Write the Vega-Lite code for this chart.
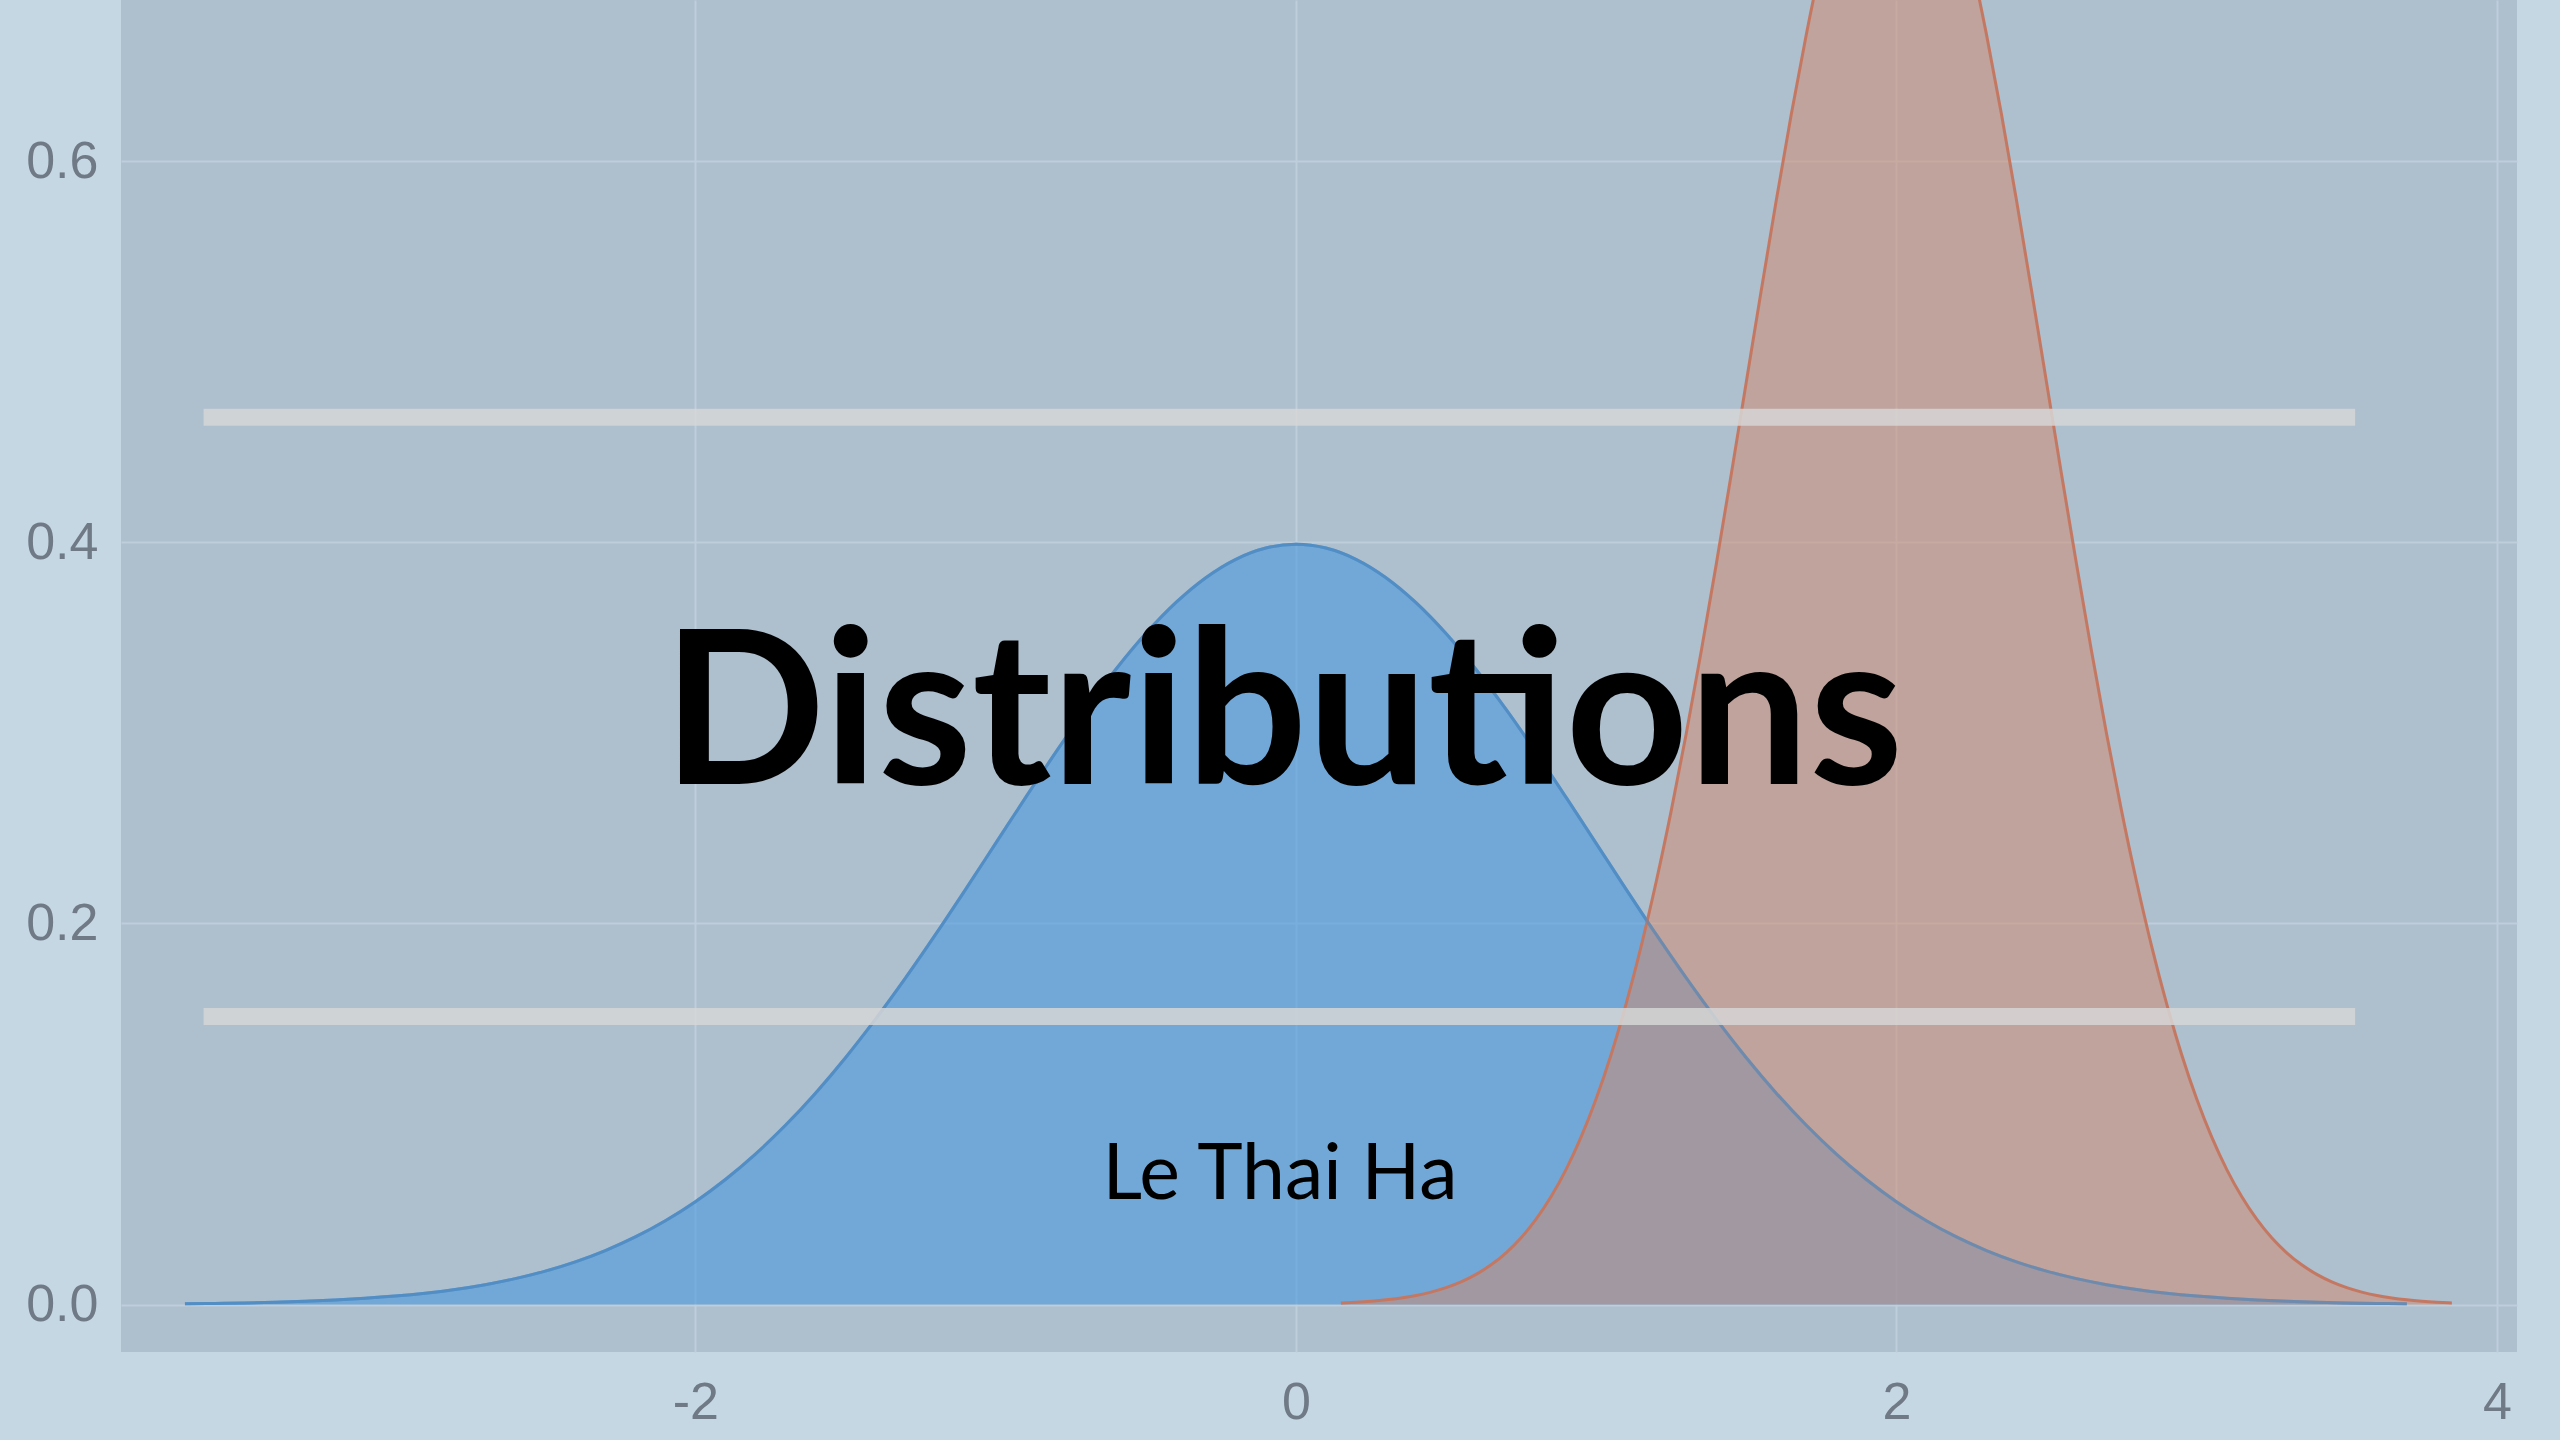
{
  "$schema": "https://vega.github.io/schema/vega-lite/v6.json",
  "width": 2396,
  "height": 1352,
  "autosize": {"type": "none"},
  "padding": {"left": 121, "top": 0, "right": 43, "bottom": 88},
  "background": "#c6d7e4",
  "view": {"fill": "#aebfce", "stroke": null},
  "config": {
    "axis": {"domain": false, "ticks": false, "labelFont": "Liberation Sans", "labelFontSize": 52, "labelColor": "#6f7a86", "gridColor": "#bfcedb", "gridWidth": 2, "title": null}
  },
  "datasets": {
    "normal": [
      {"x": -3.7, "y": 0.000425}, {"x": -3.6, "y": 0.000612}, {"x": -3.5, "y": 0.000873}, {"x": -3.4, "y": 0.001232}, {"x": -3.3, "y": 0.001723},
      {"x": -3.2, "y": 0.002384}, {"x": -3.1, "y": 0.003267}, {"x": -3.0, "y": 0.004432}, {"x": -2.9, "y": 0.005953}, {"x": -2.8, "y": 0.007915},
      {"x": -2.7, "y": 0.010421}, {"x": -2.6, "y": 0.013583}, {"x": -2.5, "y": 0.017528}, {"x": -2.4, "y": 0.022395}, {"x": -2.3, "y": 0.028327},
      {"x": -2.2, "y": 0.035475}, {"x": -2.1, "y": 0.043984}, {"x": -2.0, "y": 0.053991}, {"x": -1.9, "y": 0.065616}, {"x": -1.8, "y": 0.07895},
      {"x": -1.7, "y": 0.094049}, {"x": -1.6, "y": 0.110921}, {"x": -1.5, "y": 0.129518}, {"x": -1.4, "y": 0.149727}, {"x": -1.3, "y": 0.171369},
      {"x": -1.2, "y": 0.194186}, {"x": -1.1, "y": 0.217852}, {"x": -1.0, "y": 0.241971}, {"x": -0.9, "y": 0.266085}, {"x": -0.8, "y": 0.289692},
      {"x": -0.7, "y": 0.312254}, {"x": -0.6, "y": 0.333225}, {"x": -0.5, "y": 0.352065}, {"x": -0.4, "y": 0.36827}, {"x": -0.3, "y": 0.381388},
      {"x": -0.2, "y": 0.391043}, {"x": -0.1, "y": 0.396953}, {"x": 0.0, "y": 0.398942}, {"x": 0.1, "y": 0.396953}, {"x": 0.2, "y": 0.391043},
      {"x": 0.3, "y": 0.381388}, {"x": 0.4, "y": 0.36827}, {"x": 0.5, "y": 0.352065}, {"x": 0.6, "y": 0.333225}, {"x": 0.7, "y": 0.312254},
      {"x": 0.8, "y": 0.289692}, {"x": 0.9, "y": 0.266085}, {"x": 1.0, "y": 0.241971}, {"x": 1.1, "y": 0.217852}, {"x": 1.2, "y": 0.194186},
      {"x": 1.3, "y": 0.171369}, {"x": 1.4, "y": 0.149727}, {"x": 1.5, "y": 0.129518}, {"x": 1.6, "y": 0.110921}, {"x": 1.7, "y": 0.094049},
      {"x": 1.8, "y": 0.07895}, {"x": 1.9, "y": 0.065616}, {"x": 2.0, "y": 0.053991}, {"x": 2.1, "y": 0.043984}, {"x": 2.2, "y": 0.035475},
      {"x": 2.3, "y": 0.028327}, {"x": 2.4, "y": 0.022395}, {"x": 2.5, "y": 0.017528}, {"x": 2.6, "y": 0.013583}, {"x": 2.7, "y": 0.010421},
      {"x": 2.8, "y": 0.007915}, {"x": 2.9, "y": 0.005953}, {"x": 3.0, "y": 0.004432}, {"x": 3.1, "y": 0.003267}, {"x": 3.2, "y": 0.002384},
      {"x": 3.3, "y": 0.001723}, {"x": 3.4, "y": 0.001232}, {"x": 3.5, "y": 0.000873}, {"x": 3.6, "y": 0.000612}, {"x": 3.7, "y": 0.000425}
    ],
    "narrow": [
      {"x": 0.15, "y": 0.00085}, {"x": 0.2, "y": 0.001224}, {"x": 0.25, "y": 0.001745}, {"x": 0.3, "y": 0.002464}, {"x": 0.35, "y": 0.003446},
      {"x": 0.4, "y": 0.004768}, {"x": 0.45, "y": 0.006534}, {"x": 0.5, "y": 0.008864}, {"x": 0.55, "y": 0.011906}, {"x": 0.6, "y": 0.01583},
      {"x": 0.65, "y": 0.020842}, {"x": 0.7, "y": 0.027165}, {"x": 0.75, "y": 0.035056}, {"x": 0.8, "y": 0.044789}, {"x": 0.85, "y": 0.056654},
      {"x": 0.9, "y": 0.070949}, {"x": 0.95, "y": 0.087969}, {"x": 1.0, "y": 0.107982}, {"x": 1.05, "y": 0.131232}, {"x": 1.1, "y": 0.1579},
      {"x": 1.15, "y": 0.188098}, {"x": 1.2, "y": 0.221842}, {"x": 1.25, "y": 0.259035}, {"x": 1.3, "y": 0.299455}, {"x": 1.35, "y": 0.342738},
      {"x": 1.4, "y": 0.388372}, {"x": 1.45, "y": 0.435704}, {"x": 1.5, "y": 0.483941}, {"x": 1.55, "y": 0.53217}, {"x": 1.6, "y": 0.579383},
      {"x": 1.65, "y": 0.624508}, {"x": 1.7, "y": 0.666449}, {"x": 1.75, "y": 0.70413}, {"x": 1.8, "y": 0.73654}, {"x": 1.85, "y": 0.762775},
      {"x": 1.9, "y": 0.782085}, {"x": 1.95, "y": 0.793905}, {"x": 2.0, "y": 0.797885}, {"x": 2.05, "y": 0.793905}, {"x": 2.1, "y": 0.782085},
      {"x": 2.15, "y": 0.762775}, {"x": 2.2, "y": 0.73654}, {"x": 2.25, "y": 0.70413}, {"x": 2.3, "y": 0.666449}, {"x": 2.35, "y": 0.624508},
      {"x": 2.4, "y": 0.579383}, {"x": 2.45, "y": 0.53217}, {"x": 2.5, "y": 0.483941}, {"x": 2.55, "y": 0.435704}, {"x": 2.6, "y": 0.388372},
      {"x": 2.65, "y": 0.342738}, {"x": 2.7, "y": 0.299455}, {"x": 2.75, "y": 0.259035}, {"x": 2.8, "y": 0.221842}, {"x": 2.85, "y": 0.188098},
      {"x": 2.9, "y": 0.1579}, {"x": 2.95, "y": 0.131232}, {"x": 3.0, "y": 0.107982}, {"x": 3.05, "y": 0.087969}, {"x": 3.1, "y": 0.070949},
      {"x": 3.15, "y": 0.056654}, {"x": 3.2, "y": 0.044789}, {"x": 3.25, "y": 0.035056}, {"x": 3.3, "y": 0.027165}, {"x": 3.35, "y": 0.020842},
      {"x": 3.4, "y": 0.01583}, {"x": 3.45, "y": 0.011906}, {"x": 3.5, "y": 0.008864}, {"x": 3.55, "y": 0.006534}, {"x": 3.6, "y": 0.004768},
      {"x": 3.65, "y": 0.003446}, {"x": 3.7, "y": 0.002464}, {"x": 3.75, "y": 0.001745}, {"x": 3.8, "y": 0.001224}, {"x": 3.85, "y": 0.00085}
    ],
    "bands": [
      {"x": -3.638, "x2": 3.528, "y": 0.4656},
      {"x": -3.638, "x2": 3.528, "y": 0.1512}
    ],
    "labels": [
      {"title": "Distributions", "author": "Le Thai Ha"}
    ]
  },
  "layer": [
    {
      "data": {"name": "normal"},
      "mark": {"type": "area", "interpolate": "monotone", "color": "#4a9ae0", "fillOpacity": 0.6, "clip": true, "line": {"color": "#4895d8", "strokeWidth": 3}},
      "encoding": {
        "x": {"field": "x", "type": "quantitative", "scale": {"domain": [-3.913, 4.067], "nice": false, "zero": false}, "axis": {"values": [-2, 0, 2, 4], "labelExpr": "'' + datum.value", "labelPadding": 25}},
        "y": {"field": "y", "type": "quantitative", "scale": {"domain": [-0.0249, 0.6845], "nice": false, "zero": false}, "axis": {"values": [0, 0.2, 0.4, 0.6], "format": ".1f", "labelPadding": 23}}
      }
    },
    {
      "data": {"name": "narrow"},
      "mark": {"type": "area", "interpolate": "monotone", "color": "#d0886a", "fillOpacity": 0.5, "clip": true, "line": {"color": "#c47862", "strokeWidth": 3}},
      "encoding": {
        "x": {"field": "x", "type": "quantitative"},
        "y": {"field": "y", "type": "quantitative"}
      }
    },
    {
      "data": {"name": "normal"},
      "mark": {"type": "line", "interpolate": "monotone", "color": "#5a88b8", "strokeWidth": 3, "opacity": 0.6, "clip": true},
      "encoding": {
        "x": {"field": "x", "type": "quantitative"},
        "y": {"field": "y", "type": "quantitative"}
      }
    },
    {
      "data": {"name": "bands"},
      "mark": {"type": "rule", "color": "#d6d6d6", "strokeWidth": 17, "opacity": 0.85},
      "encoding": {
        "x": {"field": "x", "type": "quantitative"},
        "x2": {"field": "x2"},
        "y": {"field": "y", "type": "quantitative"}
      }
    },
    {
      "data": {"name": "labels"},
      "mark": {"type": "text", "font": "Lato", "fontWeight": "bold", "fontSize": 214, "color": "#000000", "align": "center", "baseline": "alphabetic"},
      "encoding": {
        "text": {"field": "title"},
        "x": {"datum": -0.043},
        "y": {"datum": 0.2732}
      }
    },
    {
      "data": {"name": "labels"},
      "mark": {"type": "text", "font": "Lato", "fontSize": 77, "color": "#000000", "align": "center", "baseline": "alphabetic"},
      "encoding": {
        "text": {"field": "author"},
        "x": {"datum": -0.053},
        "y": {"datum": 0.0554}
      }
    }
  ]
}
